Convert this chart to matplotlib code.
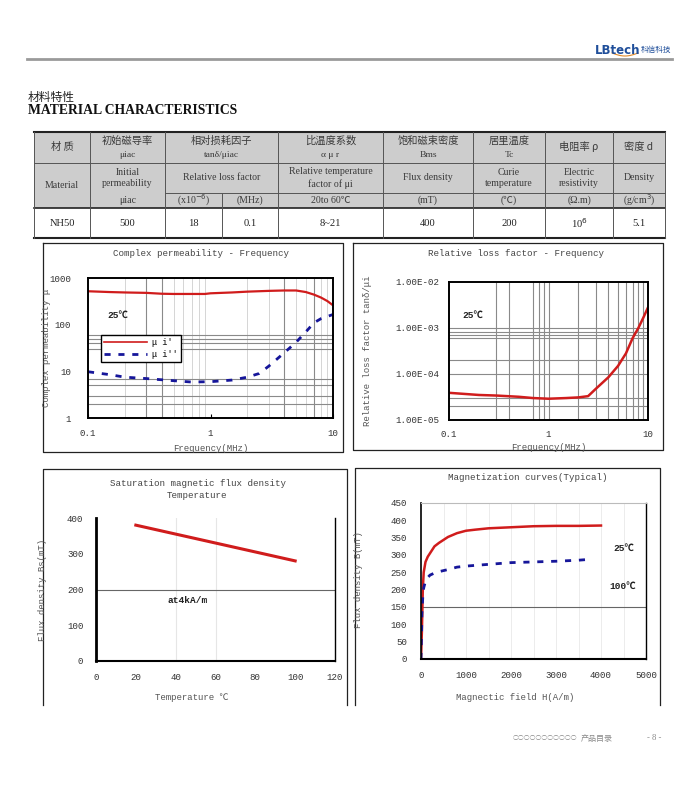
import numpy as np
import matplotlib
matplotlib.use("Agg")
import matplotlib.pyplot as plt
from matplotlib.lines import Line2D

W, H = 700, 792
MONO = ["Liberation Mono", "Noto Sans CJK SC"]
SERIF = ["Liberation Serif", "Noto Sans CJK SC"]
CJK = ["Noto Sans CJK SC", "DejaVu Sans"]
plt.rcParams["font.family"] = MONO
plt.rcParams["axes.unicode_minus"] = False

# ---------------- data read from the sheet ----------------
# complex permeability vs frequency (MHz)
freq_real = [0.1, 0.15, 0.2, 0.3, 0.4, 0.5, 0.7, 0.9, 1.0, 1.5, 2, 3, 4, 5, 6, 7, 8, 9, 10]
mu_real = [520, 500, 490, 480, 460, 455, 455, 455, 470, 490, 510, 530, 540, 540, 500, 440, 380, 320, 260]
freq_imag = [0.1, 0.15, 0.2, 0.3, 0.5, 0.7, 1.0, 1.5, 2.0, 2.5, 3, 4, 5, 6, 7, 8, 10]
mu_imag = [9.8, 8.5, 7.5, 7.0, 6.3, 5.9, 6.0, 6.5, 7.5, 9.0, 13, 25, 42, 70, 110, 135, 165]

# relative loss factor vs frequency (MHz)
freq_loss = [0.1, 0.2, 0.3, 0.5, 0.7, 1.0, 1.5, 2.0, 2.5, 3, 4, 5, 6, 7, 8, 9, 10]
loss = [3.9e-5, 3.5e-5, 3.4e-5, 3.2e-5, 3.0e-5, 2.9e-5, 3.0e-5, 3.1e-5, 3.3e-5,
        4.8e-5, 8.5e-5, 1.5e-4, 2.8e-4, 6.0e-4, 1.0e-3, 1.7e-3, 2.8e-3]

# saturation flux density vs temperature
temp = [20, 100]
bs = [380, 280]

# magnetization curves
h_25 = [0, 20, 40, 60, 100, 150, 200, 300, 400, 600, 800, 1000, 1200, 1500, 2000, 2500, 3000, 3500, 4000]
b_25 = [0, 80, 200, 250, 280, 295, 305, 325, 335, 352, 363, 370, 373, 377, 380, 383, 384, 384, 385]
h_100 = [0, 10, 20, 40, 60, 100, 150, 200, 300, 400, 600, 800, 1000, 1500, 2000, 2500, 3000, 3500, 3800]
b_100 = [0, 60, 130, 180, 205, 225, 235, 242, 248, 252, 258, 265, 268, 273, 278, 280, 282, 285, 288]

# table
head_cn = ["材 质", "初始磁导率", "相对损耗因子", "比温度系数", "饱和磁束密度", "居里温度", "电阻率 ρ", "密度 d"]
head_sym = ["", "μiac", "tanδ/μiac", "α μ r", "Bms", "Tc", "", ""]
head_en = ["Material", "Initial\npermeability", "Relative loss factor", "Relative temperature\nfactor of μi",
           "Flux density", "Curie\ntemperature", "Electric\nresistivity", "Density"]
units = ["", "μiac", "(x10$^{-6}$)", "(MHz)", "20to 60℃", "(mT)", "(℃)", "(Ω.m)", "(g/cm$^3$)"]
values = ["NH50", "500", "18", "0.1", "8~21", "400", "200", "10$^6$", "5.1"]

RED = "#d01c1c"
BLUE = "#16169a"

fig = plt.figure(figsize=(7, 7.92), dpi=100)
page = fig.add_axes([0, 0, 1, 1], zorder=0)
page.set_xlim(0, W)
page.set_ylim(H, 0)
page.axis("off")


def px_axes(x0, y0, x1, y1):
    return fig.add_axes([x0 / W, 1 - y1 / H, (x1 - x0) / W, (y1 - y0) / H], zorder=2)


# ---------------- header ----------------
page.plot([27, 672], [59, 59], color="#9a9a9a", lw=2)
page.text(595, 50, "LBtech", color="#1f4e9a", fontsize=8.5, fontweight="bold",
          family="DejaVu Sans", va="center")
page.text(641, 50, "科信科技", color="#1f4e9a", fontsize=5.5, family=CJK, va="center")
arc_x = np.linspace(612, 638, 30)
page.plot(arc_x, 53 + 3 * np.sin(np.linspace(0, np.pi, 30)), color="#e08a2a", lw=0.8)
page.text(28, 97, "材料特性", fontsize=8.5, family=CJK, va="center", color="#222222")
page.text(28, 111, "MATERIAL CHARACTERISTICS", fontsize=9.8, family=SERIF, fontweight="bold",
          va="center", color="#111111")

# ---------------- table ----------------
cols = [34, 90, 165, 222, 278, 383, 473, 545, 613, 665]
rows = [132, 163, 193, 208, 238]
page.fill_between([cols[0], cols[-1]], rows[0], rows[3], color="#cdcdcd", lw=0)
gc = "#555555"
page.plot([cols[0], cols[-1]], [rows[0]] * 2, color="#222222", lw=1.5)
page.plot([cols[0], cols[-1]], [rows[4]] * 2, color="#222222", lw=1.5)
page.plot([cols[0], cols[-1]], [rows[3]] * 2, color="#222222", lw=1.2)
page.plot([cols[0], cols[-1]], [rows[1]] * 2, color=gc, lw=0.7)
page.plot([cols[2], cols[-1]], [rows[2]] * 2, color=gc, lw=0.7)
for c in cols:
    if c == 222:
        page.plot([c, c], [rows[2], rows[4]], color=gc, lw=0.7)
    else:
        page.plot([c, c], [rows[0], rows[4]], color=gc, lw=0.7)

grp = [(34, 90), (90, 165), (165, 278), (278, 383), (383, 473), (473, 545), (545, 613), (613, 665)]
tc = "#3a3a3a"
for (a, b), cn, sym in zip(grp, head_cn, head_sym):
    xc = (a + b) / 2
    if sym:
        page.text(xc, 141, cn, ha="center", va="center", fontsize=7.4, family=CJK, color=tc)
        page.text(xc, 155, sym, ha="center", va="center", fontsize=6.8, family=SERIF, color=tc)
    else:
        page.text(xc, 147, cn, ha="center", va="center", fontsize=7.4, family=CJK, color=tc)
for i, ((a, b), en) in enumerate(zip(grp, head_en)):
    xc = (a + b) / 2
    yc = 185 if i == 0 else 178
    page.text(xc, yc, en, ha="center", va="center", fontsize=7.1, family=SERIF, color=tc,
              linespacing=1.3)
unit_cells = [(34, 90), (90, 165), (165, 222), (222, 278), (278, 383), (383, 473), (473, 545), (545, 613), (613, 665)]
for (a, b), u in zip(unit_cells, units):
    if u:
        page.text((a + b) / 2, 200.5, u, ha="center", va="center", fontsize=7.1, family=SERIF, color=tc)
for (a, b), v in zip(unit_cells, values):
    page.text((a + b) / 2, 223, v, ha="center", va="center", fontsize=7.6, family=SERIF, color="#222222")

# ---------------- chart frames ----------------
fc = "#222222"
page.plot([43, 343, 343, 43, 43], [243, 243, 452, 452, 243], color=fc, lw=0.9)
page.plot([353, 663, 663, 353, 353], [243, 243, 450, 450, 243], color=fc, lw=0.9)
page.plot([43, 43, 347, 347], [705, 469, 469, 705], color=fc, lw=0.9)
page.plot([355, 355, 660, 660], [705, 468, 468, 705], color=fc, lw=0.9)

title_kw = dict(ha="center", va="center", fontsize=6.6, color="#444444", family=MONO)
page.text(201, 254, "Complex permeability - Frequency", **title_kw)
page.text(516, 254, "Relative loss factor - Frequency", **title_kw)
page.text(198, 483, "Saturation magnetic flux density", **title_kw)
page.text(197, 495, "Temperature", **title_kw)
page.text(528, 477, "Magnetization curves(Typical)", **title_kw)

lab_kw = dict(fontsize=6.5, color="#555555")
tick_kw = dict(labelsize=6.6, labelcolor="#333333")

# ---------------- chart 1: complex permeability ----------------
ax1 = px_axes(88, 278, 333, 418)
ax1.set_xscale("log")
ax1.set_yscale("log")
for g in [0.2, 0.5, 0.6, 0.7, 0.8, 0.9, 2, 3, 5, 6, 8, 9]:
    ax1.axvline(g, color="#cfcfcf", lw=0.6, zorder=0)
for g in [0.3, 0.4, 4, 7]:
    ax1.axvline(g, color="#8a8a8a", lw=0.8, zorder=0)
for g in [2, 3, 5, 7, 30, 40, 50, 60]:
    ax1.axhline(g, color="#8a8a8a", lw=0.8, zorder=0)
ax1.plot(freq_real, mu_real, color=RED, lw=1.6)
ax1.plot(freq_imag, mu_imag, color=BLUE, lw=2, linestyle=(0, (2.2, 2.8)))
ax1.set_xlim(0.1, 10)
ax1.set_ylim(1, 1000)
ax1.set_xticks([0.1, 1, 10], ["0.1", "1", "10"])
ax1.set_yticks([1, 10, 100, 1000], ["1", "10", "100", "1000"])
ax1.minorticks_off()
ax1.tick_params(axis="x", direction="in", length=3, pad=8, **tick_kw)
ax1.tick_params(axis="y", direction="in", length=0, pad=12, **tick_kw)
for s in ax1.spines.values():
    s.set_linewidth(1.4)
ax1.text(0.08, 0.735, "25℃", transform=ax1.transAxes, fontsize=6.8, fontweight="bold",
         family=MONO, va="center", color="#222222")
handles = [Line2D([], [], color=RED, lw=1.2), Line2D([], [], color=BLUE, lw=2, linestyle=(0, (2.2, 2.8)))]
leg = ax1.legend(handles, ["μ i'", "μ i''"], loc="upper left", bbox_to_anchor=(0.053, 0.59),
                 frameon=True, fancybox=False, edgecolor="black", framealpha=1, fontsize=6.2,
                 handlelength=5.0, borderpad=0.35, labelspacing=0.3, handletextpad=0.6,
                 borderaxespad=0)
leg.get_frame().set_linewidth(1.0)
ax1.set_xlabel("Frequency(MHz)", **lab_kw)
ax1.set_ylabel("Complex permeability μ", **lab_kw)
ax1.xaxis.set_label_coords(0.5, -0.186)
ax1.yaxis.set_label_coords(-0.151, 0.5)

# ---------------- chart 2: relative loss factor ----------------
ax2 = px_axes(449, 282, 648, 420)
ax2.set_xscale("log")
ax2.set_yscale("log")
for g in [0.3, 0.4, 0.7, 0.8, 0.9, 1, 2, 3, 4, 5, 6, 7, 8, 9]:
    ax2.axvline(g, color="#8a8a8a", lw=0.8, zorder=0)
for g in [2e-5, 3e-5, 1e-4, 2e-4, 6e-4, 7e-4, 8e-4, 1e-3]:
    ax2.axhline(g, color="#8a8a8a", lw=0.8, zorder=0)
ax2.plot(freq_loss, loss, color=RED, lw=1.8)
ax2.set_xlim(0.1, 10)
ax2.set_ylim(1e-5, 1e-2)
ax2.set_xticks([0.1, 1, 10], ["0.1", "1", "10"])
ax2.set_yticks([1e-5, 1e-4, 1e-3, 1e-2], ["1.00E-05", "1.00E-04", "1.00E-03", "1.00E-02"])
ax2.minorticks_off()
ax2.tick_params(axis="x", direction="in", length=0, pad=7, **tick_kw)
ax2.tick_params(axis="y", direction="in", length=0, pad=7, **tick_kw)
for s in ax2.spines.values():
    s.set_linewidth(1.4)
ax2.text(0.066, 0.76, "25℃", transform=ax2.transAxes, fontsize=6.8, fontweight="bold",
         family=MONO, va="center", color="#222222")
ax2.set_xlabel("Frequency(MHz)", **lab_kw)
ax2.set_ylabel("Relative loss factor tanδ/μi", **lab_kw)
ax2.xaxis.set_label_coords(0.5, -0.167)
ax2.yaxis.set_label_coords(-0.387, 0.5)

# ---------------- chart 3: saturation flux density ----------------
ax3 = px_axes(96, 518, 335, 661)
for g in [40, 60]:
    ax3.axvline(g, color="#e6e6e6", lw=0.8, zorder=0)
ax3.axhline(200, color="#666666", lw=0.8, zorder=0)
ax3.plot(temp, bs, color=RED, lw=2.2)
ax3.set_xlim(0, 120)
ax3.set_ylim(0, 400)
ax3.set_xticks(range(0, 121, 20))
ax3.set_yticks(range(0, 401, 100))
ax3.tick_params(axis="x", length=0, pad=9, **tick_kw)
ax3.tick_params(axis="y", length=0, pad=9, **tick_kw)
ax3.spines["top"].set_visible(False)
ax3.spines["left"].set_linewidth(2.0)
ax3.spines["bottom"].set_linewidth(1.5)
ax3.spines["right"].set_linewidth(1.0)
ax3.text(36, 168, "at4kA/m", fontsize=6.8, fontweight="bold", family=MONO, va="center", color="#222222")
ax3.set_xlabel("Temperature ℃", **lab_kw)
ax3.set_ylabel("Flux density Bs(mT)", **lab_kw)
ax3.xaxis.set_label_coords(0.40, -0.224)
ax3.yaxis.set_label_coords(-0.205, 0.5)

# ---------------- chart 4: magnetization curves ----------------
ax4 = px_axes(421, 503, 646, 659)
for g in range(500, 5000, 500):
    ax4.axvline(g, color="#ececec", lw=0.7, zorder=0)
ax4.axhline(150, color="#666666", lw=0.8, zorder=0)
ax4.plot(h_25, b_25, color=RED, lw=1.8)
ax4.plot(h_100, b_100, color=BLUE, lw=2, linestyle=(0, (2.2, 2.8)))
ax4.set_xlim(0, 5000)
ax4.set_ylim(0, 450)
ax4.set_xticks(range(0, 5001, 1000))
ax4.set_yticks(range(0, 451, 50))
ax4.tick_params(axis="x", length=0, pad=9, **tick_kw)
ax4.tick_params(axis="y", length=0, pad=10, **tick_kw)
ax4.spines["top"].set_color("#bbbbbb")
ax4.spines["top"].set_linewidth(0.8)
ax4.spines["left"].set_linewidth(1.2)
ax4.spines["bottom"].set_linewidth(1.5)
ax4.spines["right"].set_linewidth(1.0)
ax4.text(4270, 320, "25℃", fontsize=6.8, fontweight="bold", family=MONO, va="center", color="#222222")
ax4.text(4180, 210, "100℃", fontsize=6.8, fontweight="bold", family=MONO, va="center", color="#222222")
ax4.set_xlabel("Magnectic field H(A/m)", **lab_kw)
ax4.set_ylabel("Flux density B(mT)", **lab_kw)
ax4.xaxis.set_label_coords(0.42, -0.218)
ax4.yaxis.set_label_coords(-0.258, 0.506)

# ---------------- footer ----------------
page.text(513, 738, "○○○○○○○○○○○", fontsize=4.2, family=CJK, va="center", color="#888888")
page.text(581, 738, "产品目录", fontsize=5.8, family=CJK, va="center", color="#888888")
page.text(647, 738, "- 8 -", fontsize=6.2, family=SERIF, va="center", color="#888888")

fig.savefig("out.png", dpi=100)
